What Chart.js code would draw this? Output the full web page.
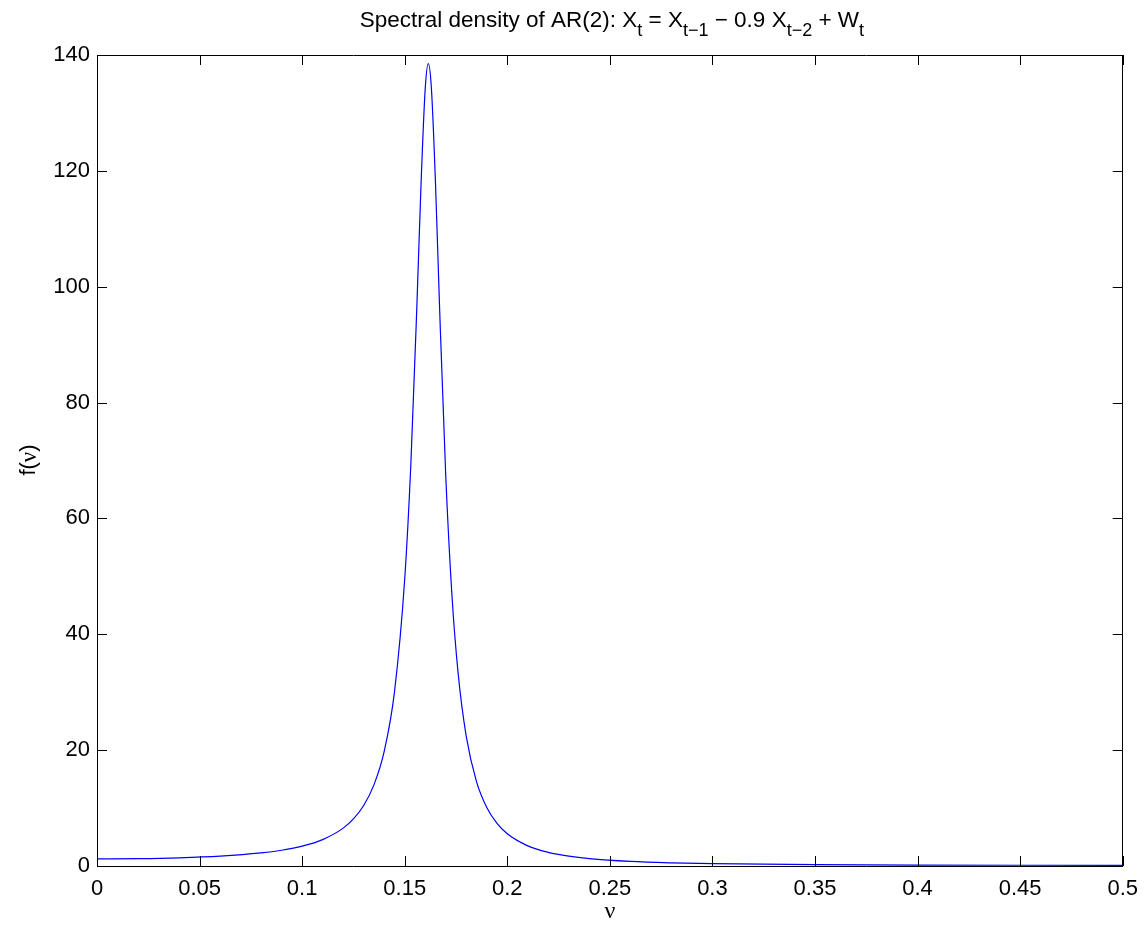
<!DOCTYPE html>
<html>
<head>
<meta charset="utf-8">
<script src="https://cdn.jsdelivr.net/npm/chart.js@4/dist/chart.umd.min.js"></script>
<style>
  html, body { margin: 0; padding: 0; background: #fff; }
  #wrap { width: 1148px; height: 926px; position: relative; }
</style>
</head>
<body>
<div id="wrap"><canvas id="chart" width="1148" height="926"></canvas></div>
<script>
// frequency (nu) and spectral density
const nu = [0, 0.02, 0.04, 0.06, 0.08, 0.09, 0.1, 0.11, 0.12, 0.125, 0.13, 0.135, 0.14, 0.145,
  0.15, 0.153, 0.156, 0.158, 0.16, 0.1615, 0.163, 0.165, 0.167, 0.17, 0.173, 0.176, 0.18,
  0.185, 0.19, 0.195, 0.2, 0.21, 0.22, 0.23, 0.24, 0.26, 0.28, 0.3, 0.35, 0.4, 0.45, 0.5];
const density = [1.235, 1.277, 1.415, 1.698, 2.25, 2.718, 3.425, 4.56, 6.539, 8.131, 10.45, 14.0, 19.8, 30.02,
  49.54, 69.44, 97.41, 118.1, 134.2, 138.5, 134.3, 117.9, 96.39, 67.35, 46.86, 33.43, 22.38,
  14.57, 10.1, 7.36, 5.571, 3.477, 2.357, 1.694, 1.273, 0.792, 0.541, 0.396, 0.223, 0.155, 0.127, 0.119];

const xTicks = [0, 0.05, 0.1, 0.15, 0.2, 0.25, 0.3, 0.35, 0.4, 0.45, 0.5];
const yTicks = [0, 20, 40, 60, 80, 100, 120, 140];

const FONT = "'Liberation Sans', Arial, sans-serif";
const SERIF = "'Liberation Serif', serif";

// inward tick marks on all four sides + title and axis labels
const boxPlugin = {
  id: "box",
  afterDraw(chart) {
    const { ctx, chartArea: a, scales } = chart;
    ctx.save();
    ctx.strokeStyle = "#000";
    ctx.lineWidth = 1;
    ctx.beginPath();
    xTicks.forEach(v => {
      const px = Math.round(scales.x.getPixelForValue(v)) + 0.5;
      ctx.moveTo(px, a.bottom); ctx.lineTo(px, a.bottom - 10);
      ctx.moveTo(px, a.top); ctx.lineTo(px, a.top + 10);
    });
    yTicks.forEach(v => {
      const py = Math.round(scales.y.getPixelForValue(v)) + 0.5;
      ctx.moveTo(a.left, py); ctx.lineTo(a.left + 10, py);
      ctx.moveTo(a.right, py); ctx.lineTo(a.right - 10, py);
    });
    ctx.stroke();

    // title with subscripts
    const parts = [
      ["Spectral density of AR(2): X", 0], ["t", 1], [" = X", 0], ["t\u22121", 1],
      [" \u2212 0.9 X", 0], ["t\u22122", 1], [" + W", 0], ["t", 1]
    ];
    const big = "22.5px " + FONT, small = "18px " + FONT;
    let total = 0;
    parts.forEach(([s, sub]) => { ctx.font = sub ? small : big; total += ctx.measureText(s).width; });
    let x = (a.left + a.right) / 2 - total / 2 + 2;
    ctx.fillStyle = "#000";
    ctx.textBaseline = "alphabetic";
    ctx.textAlign = "left";
    parts.forEach(([s, sub]) => {
      ctx.font = sub ? small : big;
      ctx.fillText(s, x, sub ? 36 : 27);
      x += ctx.measureText(s).width;
    });

    // axis labels
    ctx.textAlign = "center";
    ctx.textBaseline = "middle";
    ctx.font = "24px " + SERIF;
    ctx.fillText("\u03bd", (a.left + a.right) / 2, 912);

    ctx.translate(29, 460);
    ctx.rotate(-Math.PI / 2);
    ctx.font = "22px " + FONT;
    const w1 = ctx.measureText("f(").width;
    ctx.font = "23px " + SERIF;
    const w2 = ctx.measureText("\u03bd").width;
    ctx.font = "22px " + FONT;
    const w3 = ctx.measureText(")").width;
    let sx = -(w1 + w2 + w3) / 2;
    ctx.textAlign = "left";
    ctx.fillText("f(", sx, 0); sx += w1;
    ctx.font = "23px " + SERIF;
    ctx.fillText("\u03bd", sx, 1); sx += w2;
    ctx.font = "22px " + FONT;
    ctx.fillText(")", sx, 0);
    ctx.restore();
  }
};

new Chart(document.getElementById("chart"), {
  type: "line",
  data: {
    datasets: [{
      data: nu.map((v, i) => ({ x: v, y: density[i] })),
      borderColor: "#0000ff",
      borderWidth: 1.2,
      pointRadius: 0,
      fill: false,
      cubicInterpolationMode: "monotone"
    }]
  },
  options: {
    responsive: false,
    animation: false,
    layout: { padding: 0 },
    plugins: { legend: { display: false }, tooltip: { enabled: false } },
    scales: {
      x: {
        type: "linear", position: "bottom", min: 0, max: 0.5,
        afterBuildTicks: s => { s.ticks = xTicks.map(v => ({ value: v })); },
        afterFit: s => { s.height = 60; },
        grid: { display: false, drawTicks: false },
        border: { display: true, color: "#000", width: 1 },
        ticks: { padding: 10, color: "#000", font: { family: FONT, size: 22 }, maxRotation: 0,
          callback: v => String(v) }
      },
      x2: {
        type: "linear", position: "top", min: 0, max: 0.5,
        afterFit: s => { s.height = 55; },
        grid: { display: false, drawTicks: false },
        border: { display: true, color: "#000", width: 1 },
        ticks: { display: false }
      },
      y: {
        type: "linear", position: "left", min: 0, max: 140,
        afterBuildTicks: s => { s.ticks = yTicks.map(v => ({ value: v })); },
        afterFit: s => { s.width = 97; },
        grid: { display: false, drawTicks: false },
        border: { display: true, color: "#000", width: 1 },
        ticks: { padding: 7, color: "#000", font: { family: FONT, size: 22 } }
      },
      y2: {
        type: "linear", position: "right", min: 0, max: 140,
        afterFit: s => { s.width = 22; },
        grid: { display: false, drawTicks: false },
        border: { display: true, color: "#000", width: 1 },
        ticks: { display: false }
      }
    }
  },
  plugins: [boxPlugin]
});
</script>
</body>
</html>
